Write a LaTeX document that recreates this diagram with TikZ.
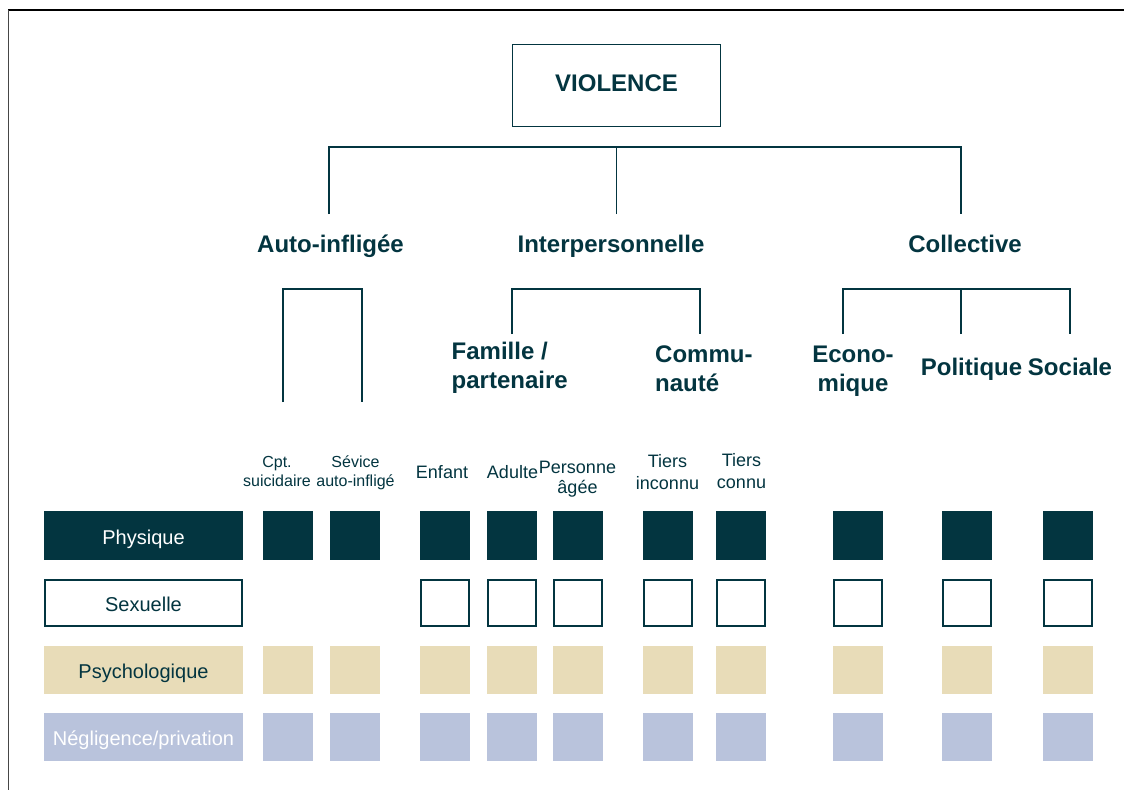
\documentclass[tikz,border=0pt]{standalone}
\usepackage{fontspec}
\setmainfont{Liberation Sans}
\definecolor{deep}{RGB}{3,53,64}
\definecolor{sand}{RGB}{232,220,184}
\definecolor{haze}{RGB}{185,195,220}
\definecolor{rim}{RGB}{70,70,70}
\begin{document}
\begin{tikzpicture}[x=1pt,y=-1pt,
  link/.style={draw=deep, line width=1.4pt},
  head/.style={font=\fontsize{24}{29}\selectfont\bfseries, text=deep, inner sep=0pt},
  sub/.style={font=\fontsize{18}{21}\selectfont, text=deep, inner sep=0pt, align=center},
  tiny/.style={font=\fontsize{16}{19.5}\selectfont, text=deep, inner sep=0pt, align=center},
  rowlab/.style={minimum width=199pt, minimum height=48.5pt, inner sep=0pt,
    font=\fontsize{20}{24}\selectfont, text height=17pt, text depth=0pt},
  cell/.style={minimum width=50pt, minimum height=48.5pt, inner sep=0pt},
  phys/.style={fill=deep, text=white},
  sexu/.style={draw=deep, line width=1.8pt, fill=white, text=deep},
  psy/.style={fill=sand, text=deep},
  negl/.style={fill=haze, text=white},
]
\useasboundingbox (0,0) rectangle (1124,790);
\fill[white] (0,0) rectangle (1124,790);

% outer frame (top and left edges)
\draw[black, line width=1.5pt] (8,10) -- (1124,10);
\draw[rim, line width=1.5pt] (8.5,9.5) -- (8.5,790);

% root
\node[draw=deep, line width=1.4pt, minimum width=207.6pt, minimum height=81.6pt,
      head, text depth=5pt] (root) at (616.5,85.5) {VIOLENCE};

% first level
\coordinate (kA) at (329,214);
\coordinate (kI) at (616.5,214);
\coordinate (kC) at (961,214);
\draw[link] (kA) -- ++(0,-67) -| (kC);
\draw[link] (kI) -- ++(0,-67);

\node[head, anchor=base] (auto)  at (330.5,252) {Auto-infligée};
\node[head, anchor=base] (inter) at (611,252)   {Interpersonnelle};
\node[head, anchor=base] (coll)  at (965,252)   {Collective};

% second level brackets
\coordinate (aL) at (283,402);
\coordinate (aR) at (362,402);
\draw[link] (aL) -- ++(0,-113) -| (aR);

\coordinate (iL) at (512,334);
\coordinate (iR) at (700,334);
\draw[link] (iL) -- ++(0,-45) -| (iR);

\coordinate (cL) at (843,334);
\coordinate (cM) at (961,334);
\coordinate (cR) at (1070,334);
\draw[link] (cL) -- ++(0,-45) -| (cR);
\draw[link] (cM) -- ++(0,-45);

\node[head, align=left, anchor=north west] (fam)  at (451.5,338.7) {\strut Famille /\\partenaire};
\node[head, align=left, anchor=north west] (comm) at (655,341.7)   {\strut Commu-\\nauté};
\node[head, align=center, anchor=north]    (eco)  at (853,341.7)   {\strut Econo-\\mique};
\node[head, anchor=base] (pol) at (971.5,375) {Politique};
\node[head, anchor=base] (soc) at (1070,375)  {Sociale};

% column labels
\node[tiny, anchor=north] (cpt) at (277,453.4)   {\strut Cpt.\\suicidaire};
\node[tiny, anchor=north] (sev) at (355.5,453.4) {\strut Sévice\\auto-infligé};
\node[sub, anchor=base] (enf) at (442,478)   {Enfant};
\node[sub, anchor=base] (adu) at (512.5,478) {Adulte};
\node[sub, anchor=north, font=\fontsize{18}{20.5}\selectfont] (per) at (577.5,458.6) {\strut Personne\\âgée};
\node[sub, anchor=north, font=\fontsize{18}{22}\selectfont]   (tin) at (667.5,452.1) {\strut Tiers\\inconnu};
\node[sub, anchor=north, font=\fontsize{18}{22}\selectfont]   (tco) at (741.5,451.3) {\strut Tiers\\connu};

% row labels
\node[rowlab, phys] (lphys) at (143.5,535.5) {Physique};
\node[rowlab, sexu, minimum width=197.2pt, minimum height=46.2pt] (lsex) at (143.5,603) {Sexuelle};
\node[rowlab, psy]  (lpsy) at (143.5,670) {Psychologique};
\node[rowlab, negl] (lneg) at (143.5,737) {Négligence/privation};

% grid of cells
\foreach \x [count=\i] in {288,355,445,512,578,668,741,858,967,1068} {
  \node[cell, phys] (phys-\i) at (\x,535.5) {};
  \node[cell, psy]  (psy-\i)  at (\x,670) {};
  \node[cell, negl] (neg-\i)  at (\x,737) {};
}
\foreach \x [count=\i from 3] in {445,512,578,668,741,858,967,1068} {
  \node[cell, sexu, minimum width=48.2pt, minimum height=46.7pt] (sex-\i) at (\x,603) {};
}
\end{tikzpicture}
\end{document}
